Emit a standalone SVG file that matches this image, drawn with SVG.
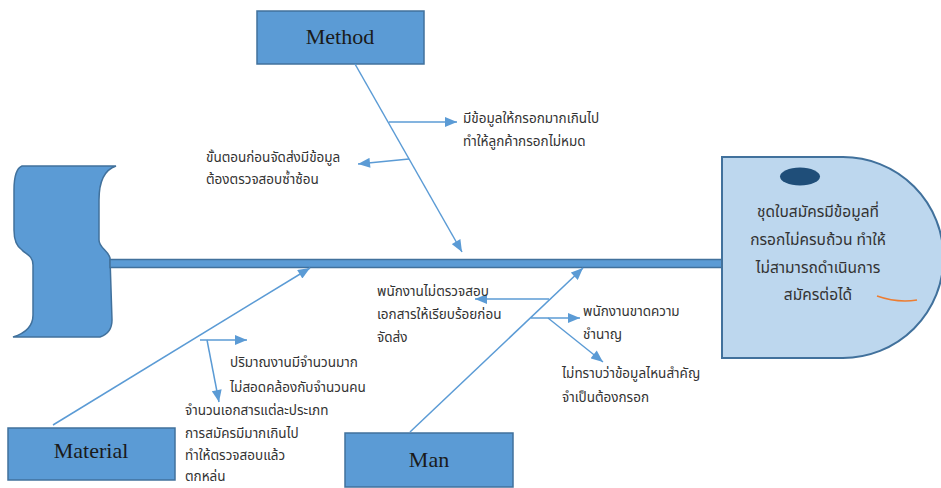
<svg xmlns="http://www.w3.org/2000/svg" width="941" height="488" viewBox="0 0 941 488">
<style>
.box{fill:#5B9BD5;stroke:#41719C;stroke-width:1.5}
.lbl{font-family:"Liberation Serif","Times New Roman",serif;font-size:22px;fill:#1a1a1a;text-anchor:middle}
.t{font-family:Tahoma,"Noto Sans Thai","Loma","Garuda","DejaVu Sans",sans-serif;font-size:13.5px;fill:#333}
.h{font-family:Tahoma,"Noto Sans Thai","Loma","Garuda","DejaVu Sans",sans-serif;font-size:15.5px;fill:#333;text-anchor:middle}
.ln{stroke:#5B9BD5;stroke-width:1.5;fill:none;marker-end:url(#ah)}
</style>
<defs>
<marker id="ah" viewBox="0 0 12 10" refX="12" refY="5" markerWidth="13" markerHeight="10" markerUnits="userSpaceOnUse" orient="auto">
<path d="M0,0 L12,5 L0,10 Z" fill="#5B9BD5"/>
</marker>
</defs>
<rect width="941" height="488" fill="#fff"/>
<g id="tail">
<path class="box" d="M22,166 L116,166 C104,170 99,182 99,200 L99,240 C99,248 108,250 110,258 L112,320 C112,330 106,335 100,337 L13,337 C26,333 33,325 33,315 L33,265 C33,255 25,254 22,250 C16,246 14,240 14,230 L14,190 C14,175 17,168 22,166 Z"/>
</g>
<g id="spine">
<rect class="box" x="110" y="259.5" width="612" height="8"/>
</g>
<g id="head">
<path d="M722,157 H843 A100.5,100.5 0 0 1 843,358 H722 Z" fill="#BDD7EE" stroke="#41719C" stroke-width="2"/>
<ellipse cx="800" cy="176.5" rx="20" ry="9" fill="#1F4E79"/>
<text class="h" x="818" y="217">ชุดใบสมัครมีข้อมูลที่</text>
<text class="h" x="818" y="245">กรอกไม่ครบถ้วน ทำให้</text>
<text class="h" x="818" y="273">ไม่สามารถดำเนินการ</text>
<text class="h" x="818" y="300">สมัครต่อได้</text>
<path d="M877,296 Q897,303 917,300" fill="none" stroke="#ED7D31" stroke-width="1.5"/>
</g>
<g id="method">
<rect class="box" x="257" y="11" width="167" height="53"/>
<text class="lbl" x="340" y="44">Method</text>
</g>
<g id="material">
<rect class="box" x="8" y="428" width="167" height="52"/>
<text class="lbl" x="91" y="458">Material</text>
</g>
<g id="man">
<rect class="box" x="345" y="433" width="168" height="54"/>
<text class="lbl" x="429" y="467">Man</text>
</g>
<g id="connectors">
<line class="ln" x1="355" y1="64" x2="462" y2="252"/>
<line class="ln" x1="389" y1="122" x2="457" y2="122"/>
<line class="ln" x1="409" y1="159" x2="358" y2="164"/>
<line class="ln" x1="53" y1="425" x2="310" y2="268"/>
<line class="ln" x1="200" y1="340" x2="247" y2="340"/>
<line class="ln" x1="207" y1="340" x2="219" y2="402"/>
<line class="ln" x1="410" y1="432" x2="583" y2="268"/>
<line class="ln" x1="549" y1="299" x2="475" y2="299"/>
<line class="ln" x1="531" y1="318" x2="580" y2="318"/>
<line class="ln" x1="548" y1="318" x2="603" y2="362"/>
</g>
<g id="texts">
<text class="t" x="463" y="123">มีข้อมูลให้กรอกมากเกินไป</text>
<text class="t" x="463" y="146">ทำให้ลูกค้ากรอกไม่หมด</text>
<text class="t" x="206" y="162">ขั้นตอนก่อนจัดส่งมีข้อมูล</text>
<text class="t" x="206" y="184">ต้องตรวจสอบซ้ำซ้อน</text>
<text class="t" x="230" y="367">ปริมาณงานมีจำนวนมาก</text>
<text class="t" x="230" y="392">ไม่สอดคล้องกับจำนวนคน</text>
<text class="t" x="185" y="415">จำนวนเอกสารแต่ละประเภท</text>
<text class="t" x="185" y="438">การสมัครมีมากเกินไป</text>
<text class="t" x="185" y="460">ทำให้ตรวจสอบแล้ว</text>
<text class="t" x="185" y="481">ตกหล่น</text>
<text class="t" x="377" y="296">พนักงานไม่ตรวจสอบ</text>
<text class="t" x="377" y="319">เอกสารให้เรียบร้อยก่อน</text>
<text class="t" x="377" y="342">จัดส่ง</text>
<text class="t" x="583" y="316">พนักงานขาดความ</text>
<text class="t" x="583" y="339">ชำนาญ</text>
<text class="t" x="562" y="378">ไม่ทราบว่าข้อมูลไหนสำคัญ</text>
<text class="t" x="562" y="402">จำเป็นต้องกรอก</text>
</g>
</svg>
